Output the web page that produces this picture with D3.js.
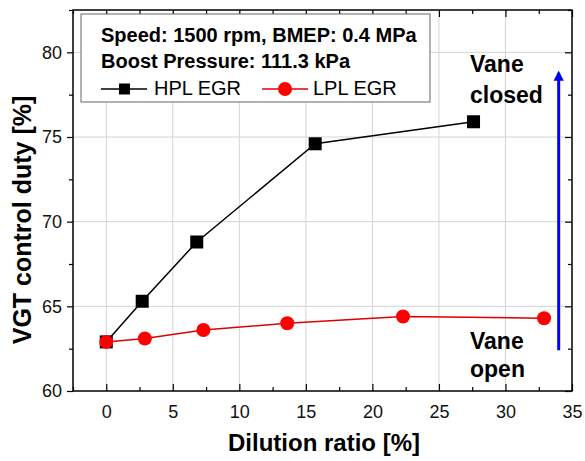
<!DOCTYPE html>
<html><head><meta charset="utf-8">
<script src="https://cdn.jsdelivr.net/npm/d3@7"></script>
<style>body{margin:0;background:#fff}svg{display:block}text{font-family:Arial,"Liberation Sans",sans-serif}</style>
</head><body><svg id="c" width="585" height="461"></svg>
<script>
const hplX = [0, 2.7, 6.8, 15.7, 27.6];
const hplY = [62.9, 65.3, 68.8, 74.6, 75.9];
const lplX = [0, 2.9, 7.3, 13.6, 22.3, 32.9];
const lplY = [62.9, 63.1, 63.6, 64.0, 64.4, 64.3];
const xTicks = [0, 5, 10, 15, 20, 25, 30, 35];
const yTicks = [60, 65, 70, 75, 80];
const legendLines = ["Speed: 1500 rpm, BMEP: 0.4 MPa", "Boost Pressure: 111.3 kPa"];
const seriesNames = ["HPL EGR", "LPL EGR"];
const arrowY = [62.4, 78.8];
const arrowX = 34.0;

(function () {
const svg = d3.select("#c");
const L = 73, R = 572, T = 10, B = 391;
const x = d3.scaleLinear().domain([-2.5, 35]).range([L, R]);
const y = d3.scaleLinear().domain([60, 82.5]).range([B, T]);

// grid
const g = svg.append("g");
g.selectAll(".vg").data(xTicks.filter(d => d < 35)).join("line")
  .attr("x1", d => x(d)).attr("x2", d => x(d)).attr("y1", T).attr("y2", B)
  .attr("stroke", "#d4d4d4").attr("stroke-width", 1);
g.selectAll(".hg").data(yTicks.filter(d => d > 60)).join("line")
  .attr("x1", L).attr("x2", R).attr("y1", d => y(d)).attr("y2", d => y(d))
  .attr("stroke", "#d4d4d4").attr("stroke-width", 1);

// axes
const xMinor = d3.range(-2.5, 35.01, 2.5).filter(v => !xTicks.includes(v));
const yMinor = d3.range(60, 82.51, 2.5).filter(v => !yTicks.includes(v));
const axB = svg.append("g").attr("transform", `translate(0,${B})`)
  .call(d3.axisBottom(x).tickValues(xTicks).tickSize(-7).tickPadding(14).tickFormat(d3.format("d")));
const axBm = svg.append("g").attr("transform", `translate(0,${B})`)
  .call(d3.axisBottom(x).tickValues(xMinor).tickSize(-4).tickFormat(""));
const axT = svg.append("g").attr("transform", `translate(0,${T})`)
  .call(d3.axisTop(x).tickValues(xTicks).tickSize(-7).tickFormat(""));
const axTm = svg.append("g").attr("transform", `translate(0,${T})`)
  .call(d3.axisTop(x).tickValues(xMinor).tickSize(-4).tickFormat(""));
const axL = svg.append("g").attr("transform", `translate(${L},0)`)
  .call(d3.axisLeft(y).tickValues(yTicks).tickSize(6).tickPadding(5).tickFormat(d3.format("d")));
const axLm = svg.append("g").attr("transform", `translate(${L},0)`)
  .call(d3.axisLeft(y).tickValues(yMinor).tickSize(4).tickFormat(""));
const axR = svg.append("g").attr("transform", `translate(${R},0)`)
  .call(d3.axisRight(y).tickValues(yTicks).tickSize(-7).tickFormat(""));
const axRm = svg.append("g").attr("transform", `translate(${R},0)`)
  .call(d3.axisRight(y).tickValues(yMinor).tickSize(-4).tickFormat(""));
[axB, axBm, axT, axTm, axL, axLm, axR, axRm].forEach(a => {
  a.select(".domain").remove();
  a.selectAll("line").attr("stroke", "#000").attr("stroke-width", 1.2);
  a.selectAll("text").attr("font-size", 18).attr("fill", "#111").attr("font-family", "Arial, 'Liberation Sans', sans-serif");
});
svg.append("rect").attr("x", L).attr("y", T).attr("width", R - L).attr("height", B - T)
  .attr("fill", "none").attr("stroke", "#000").attr("stroke-width", 1.5);

// axis titles
svg.append("text").attr("x", 324).attr("y", 451).attr("text-anchor", "middle")
  .attr("font-size", 24).attr("font-weight", "bold").text("Dilution ratio [%]");
svg.append("text").attr("transform", "translate(31,220) rotate(-90)").attr("text-anchor", "middle")
  .attr("font-size", 25).attr("font-weight", "bold").text("VGT control duty [%]");

// series
const hpl = hplX.map((v, i) => [v, hplY[i]]);
const lpl = lplX.map((v, i) => [v, lplY[i]]);
const line = d3.line().x(d => x(d[0])).y(d => y(d[1]));
svg.append("path").datum(hpl).attr("d", line).attr("fill", "none").attr("stroke", "#000").attr("stroke-width", 1.5);
svg.append("path").datum(lpl).attr("d", line).attr("fill", "none").attr("stroke", "#e00000").attr("stroke-width", 1.5);
svg.selectAll(".sq").data(hpl).join("rect")
  .attr("x", d => x(d[0]) - 6.5).attr("y", d => y(d[1]) - 6.5).attr("width", 13).attr("height", 13).attr("fill", "#000");
svg.selectAll(".ci").data(lpl).join("circle")
  .attr("cx", d => x(d[0])).attr("cy", d => y(d[1])).attr("r", 7).attr("fill", "#ff0000");

// arrow
svg.append("defs").append("marker").attr("id", "ah").attr("viewBox", "0 0 10 10")
  .attr("refX", 8).attr("refY", 5).attr("markerWidth", 3.4).attr("markerHeight", 5.5).attr("orient", "auto")
  .attr("markerUnits", "strokeWidth")
  .append("path").attr("d", "M0,0 L10,5 L0,10 Z").attr("fill", "#0000ff");
svg.append("line").attr("x1", x(arrowX)).attr("x2", x(arrowX)).attr("y1", y(arrowY[0])).attr("y2", y(arrowY[1]))
  .attr("stroke", "#0000ff").attr("stroke-width", 3).attr("marker-end", "url(#ah)");

// vane labels
const vane = [["Vane", 470, 72], ["closed", 470, 103], ["Vane", 470, 349], ["open", 470, 377]];
svg.selectAll(".vn").data(vane).join("text")
  .attr("x", d => d[1]).attr("y", d => d[2]).attr("font-size", 23).attr("font-weight", "bold").text(d => d[0]);

// legend box
svg.append("rect").attr("x", 81).attr("y", 14).attr("width", 349).attr("height", 88)
  .attr("fill", "#fff").attr("stroke", "#666").attr("stroke-width", 1);
svg.selectAll(".lt").data(legendLines).join("text")
  .attr("x", 101).attr("y", (d, i) => 42 + i * 26).attr("font-size", 20).attr("font-weight", "bold").text(d => d);
const ly = 89;
svg.append("line").attr("x1", 101).attr("x2", 147).attr("y1", ly).attr("y2", ly).attr("stroke", "#000").attr("stroke-width", 1.5);
svg.append("rect").attr("x", 119).attr("y", ly - 5.5).attr("width", 11).attr("height", 11).attr("fill", "#000");
svg.append("text").attr("x", 154).attr("y", ly + 6).attr("font-size", 20).text(seriesNames[0]);
svg.append("line").attr("x1", 262).attr("x2", 308).attr("y1", ly).attr("y2", ly).attr("stroke", "#e00000").attr("stroke-width", 1.5);
svg.append("circle").attr("cx", 285).attr("cy", ly).attr("r", 7).attr("fill", "#ff0000");
svg.append("text").attr("x", 313).attr("y", ly + 6).attr("font-size", 20).text(seriesNames[1]);
})();
</script></body></html>
